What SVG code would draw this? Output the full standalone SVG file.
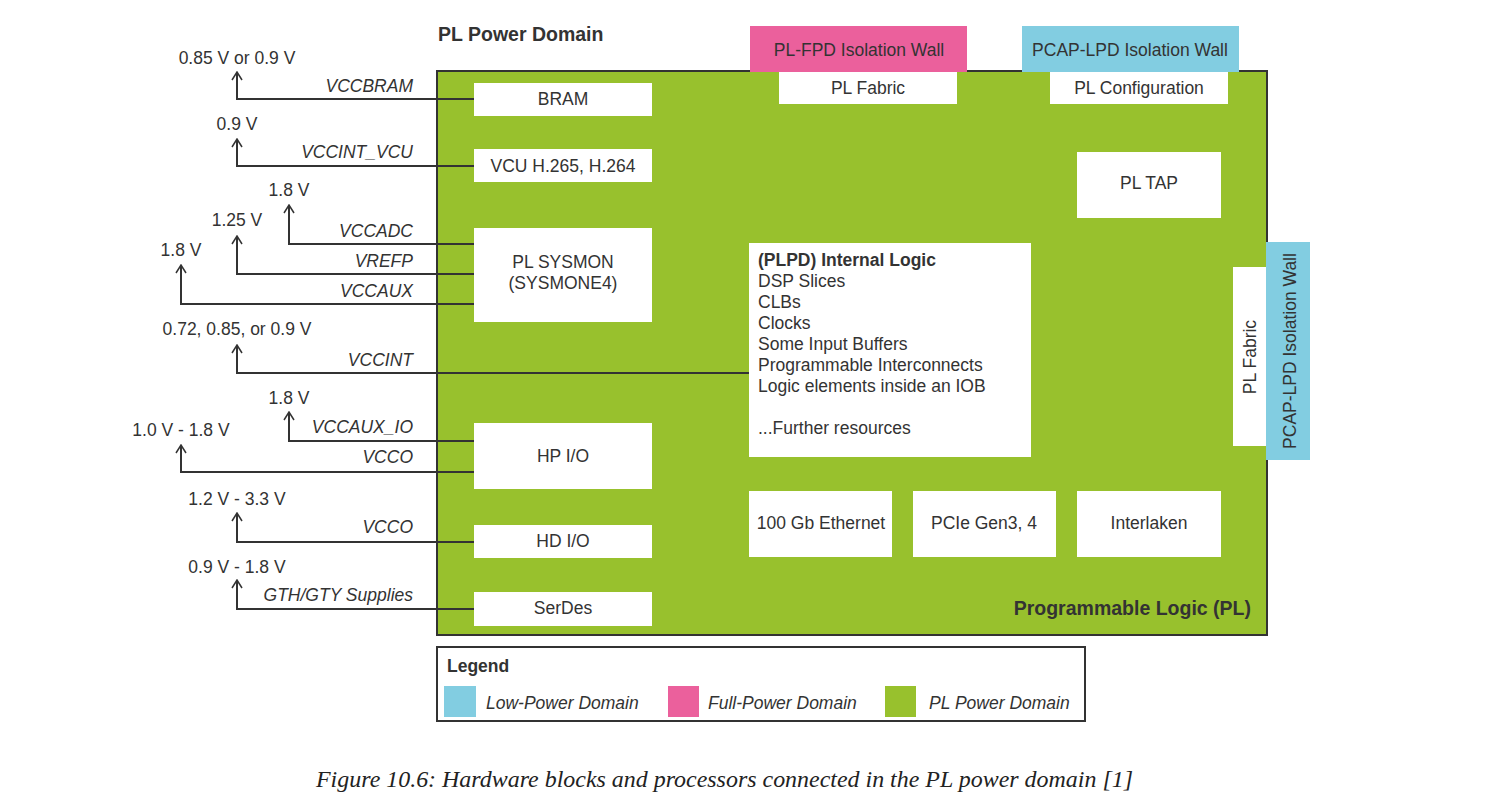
<svg xmlns="http://www.w3.org/2000/svg" width="1498" height="808" viewBox="0 0 1498 808">
<style>
  text { font-family: "Liberation Sans", Arial, sans-serif; font-size: 17.5px; fill: #333; }
  .c { text-anchor: middle; }
  .r { text-anchor: end; }
  .it { font-style: italic; }
  .b { font-weight: bold; }
  .h { font-weight: bold; font-size: 19.5px; }
  .box { fill: #fff; }
  .green { fill: #98c12d; }
  .pink { fill: #eb609c; }
  .blue { fill: #82cde1; }
  .wire { fill: none; stroke: #333; stroke-width: 2; marker-end: url(#arr); }
  .cap { font-family: "Liberation Serif", "Times New Roman", serif; font-style: italic; font-size: 23px; fill: #222; }
</style>
<defs>
  <marker id="arr" viewBox="-9 -6 10 12" markerWidth="10" markerHeight="12" refX="0" refY="0" orient="auto" markerUnits="userSpaceOnUse">
    <path d="M-8,-5 L0,0 L-8,5" fill="none" stroke="#333" stroke-width="1.5"/>
  </marker>
</defs>

<text class="h" x="438" y="41">PL Power Domain</text>

<g id="pl">
  <rect class="green" x="437" y="71" width="830" height="564" stroke="#333" stroke-width="2"/>
  <text class="h r" x="1251" y="615">Programmable Logic (PL)</text>
</g>

<g id="connectors">
  <path class="wire" d="M474,99 H237 V72"/>
  <path class="wire" d="M474,166 H237 V139"/>
  <path class="wire" d="M474,244 H289 V205"/>
  <path class="wire" d="M474,274 H237 V236"/>
  <path class="wire" d="M474,304 H181 V265"/>
  <path class="wire" d="M750,373 H237 V345"/>
  <path class="wire" d="M474,441 H289 V412"/>
  <path class="wire" d="M474,472 H181 V445"/>
  <path class="wire" d="M474,542 H237 V513"/>
  <path class="wire" d="M474,609 H237 V580"/>
  <text class="c" x="237" y="64">0.85 V or 0.9 V</text>
  <text class="c" x="237" y="130">0.9 V</text>
  <text class="c" x="289" y="196">1.8 V</text>
  <text class="c" x="237" y="226">1.25 V</text>
  <text class="c" x="181" y="256">1.8 V</text>
  <text class="c" x="237" y="335">0.72, 0.85, or 0.9 V</text>
  <text class="c" x="289" y="404">1.8 V</text>
  <text class="c" x="181" y="436">1.0 V - 1.8 V</text>
  <text class="c" x="237" y="505">1.2 V - 3.3 V</text>
  <text class="c" x="237" y="573">0.9 V - 1.8 V</text>
  <text class="it r" x="413" y="92">VCCBRAM</text>
  <text class="it r" x="413" y="158">VCCINT_VCU</text>
  <text class="it r" x="413" y="237">VCCADC</text>
  <text class="it r" x="413" y="267">VREFP</text>
  <text class="it r" x="413" y="297">VCCAUX</text>
  <text class="it r" x="413" y="366">VCCINT</text>
  <text class="it r" x="413" y="433">VCCAUX_IO</text>
  <text class="it r" x="413" y="463">VCCO</text>
  <text class="it r" x="413" y="533">VCCO</text>
  <text class="it r" x="413" y="601">GTH/GTY Supplies</text>
</g>

<g id="bram"><rect class="box" x="474" y="83" width="178" height="33"/><text class="c" x="563" y="105">BRAM</text></g>
<g id="vcu"><rect class="box" x="474" y="149" width="178" height="33"/><text class="c" x="563" y="172">VCU H.265, H.264</text></g>
<g id="sysmon"><rect class="box" x="474" y="228" width="178" height="94"/><text class="c" x="563" y="268">PL SYSMON</text><text class="c" x="563" y="289">(SYSMONE4)</text></g>
<g id="hpio"><rect class="box" x="474" y="423" width="178" height="66"/><text class="c" x="563" y="462">HP I/O</text></g>
<g id="hdio"><rect class="box" x="474" y="525" width="178" height="33"/><text class="c" x="563" y="547">HD I/O</text></g>
<g id="serdes"><rect class="box" x="474" y="592" width="178" height="34"/><text class="c" x="563" y="614">SerDes</text></g>

<g id="fpd-wall"><rect class="pink" x="750" y="26" width="217" height="46"/><text class="c" x="859" y="56">PL-FPD Isolation Wall</text></g>
<g id="pl-fabric-top"><rect class="box" x="779" y="72" width="178" height="32"/><text class="c" x="868" y="94">PL Fabric</text></g>
<g id="lpd-wall-top"><rect class="blue" x="1022" y="26" width="217" height="46"/><text class="c" x="1130" y="56">PCAP-LPD Isolation Wall</text></g>
<g id="pl-config"><rect class="box" x="1050" y="72" width="178" height="32"/><text class="c" x="1139" y="94">PL Configuration</text></g>
<g id="pl-tap"><rect class="box" x="1077" y="152" width="144" height="66"/><text class="c" x="1149" y="189">PL TAP</text></g>

<g id="internal-logic">
  <rect class="box" x="749" y="243" width="282" height="214"/>
  <text class="b" x="758" y="266">(PLPD) Internal Logic</text>
  <text x="758" y="287">DSP Slices</text>
  <text x="758" y="308">CLBs</text>
  <text x="758" y="329">Clocks</text>
  <text x="758" y="350">Some Input Buffers</text>
  <text x="758" y="371">Programmable Interconnects</text>
  <text x="758" y="392">Logic elements inside an IOB</text>
  <text x="758" y="434">...Further resources</text>
</g>

<g id="ethernet"><rect class="box" x="749" y="491" width="143" height="66"/><text class="c" x="821" y="529">100 Gb Ethernet</text></g>
<g id="pcie"><rect class="box" x="913" y="491" width="143" height="66"/><text class="c" x="984" y="529">PCIe Gen3, 4</text></g>
<g id="interlaken"><rect class="box" x="1077" y="491" width="144" height="66"/><text class="c" x="1149" y="529">Interlaken</text></g>

<g id="pl-fabric-side"><rect class="box" x="1233" y="267" width="34" height="179"/><text class="c" transform="translate(1256,357) rotate(-90)">PL Fabric</text></g>
<g id="lpd-wall-side"><rect class="blue" x="1266" y="242" width="44" height="218"/><text class="c" transform="translate(1296,351) rotate(-90)">PCAP-LPD Isolation Wall</text></g>

<g id="legend">
  <rect x="437" y="647" width="648" height="74" fill="#fff" stroke="#333" stroke-width="2"/>
  <text class="b" x="447" y="672">Legend</text>
  <rect class="blue" x="444" y="686" width="32" height="31"/>
  <text class="it" x="486" y="709">Low-Power Domain</text>
  <rect class="pink" x="668" y="686" width="31" height="31"/>
  <text class="it" x="708" y="709">Full-Power Domain</text>
  <rect class="green" x="885" y="686" width="31" height="31"/>
  <text class="it" x="929" y="709">PL Power Domain</text>
</g>

<text class="cap" x="316" y="787" textLength="817" lengthAdjust="spacingAndGlyphs">Figure 10.6: Hardware blocks and processors connected in the PL power domain [1]</text>
</svg>
